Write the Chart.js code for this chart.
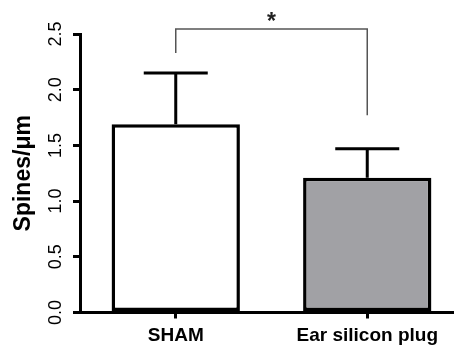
<!DOCTYPE html>
<html>
<head>
<meta charset="utf-8">
<script src="https://cdn.jsdelivr.net/npm/chart.js@4"></script>
<style>
  html, body { margin: 0; padding: 0; background: #fff; overflow: hidden; }
</style>
</head>
<body>
<canvas id="myChart" width="464" height="345"></canvas>
<script>
// data
var categories = ['SHAM', 'Ear silicon plug'];
var means = [1.69, 1.21];
var errors = [0.46, 0.26];
var barColors = ['#ffffff', '#a1a1a5'];

// significance bracket (in y units)
var bracketTop = 2.545;
var bracketEnds = [2.33, 1.77];
var sigLabel = '*';

// error bars + bracket drawn on top of the bars
var errorBars = {
    id: 'errorBars',
    afterDatasetsDraw: function (chart) {
        var c = chart.ctx;
        var x = chart.scales.x;
        var y = chart.scales.y;
        c.save();
        c.strokeStyle = '#000';
        c.lineWidth = 3;
        means.forEach(function (m, i) {
            var px = x.getPixelForValue(i);
            var top = y.getPixelForValue(m + errors[i]);
            c.beginPath();
            c.moveTo(px, y.getPixelForValue(m));
            c.lineTo(px, top);
            c.moveTo(px - 32, top);
            c.lineTo(px + 32, top);
            c.stroke();
        });

        var x0 = x.getPixelForValue(0);
        var x1 = x.getPixelForValue(1);
        var yt = y.getPixelForValue(bracketTop);
        c.strokeStyle = '#555';
        c.lineWidth = 1.5;
        c.beginPath();
        c.moveTo(x0, y.getPixelForValue(bracketEnds[0]));
        c.lineTo(x0, yt);
        c.lineTo(x1, yt);
        c.lineTo(x1, y.getPixelForValue(bracketEnds[1]));
        c.stroke();

        c.fillStyle = '#222';
        c.font = 'bold 23px "Liberation Sans", Arial, sans-serif';
        c.textAlign = 'center';
        c.textBaseline = 'alphabetic';
        c.fillText(sigLabel, (x0 + x1) / 2, yt);
        c.restore();
    }
};

var ctx = document.getElementById('myChart').getContext('2d');
var chart = new Chart(ctx, {
    type: 'bar',
    data: {
        labels: categories,
        datasets: [{
            data: means,
            backgroundColor: barColors,
            borderColor: '#000',
            borderWidth: 3.5,
            borderSkipped: false,
            barPercentage: 0.67,
            categoryPercentage: 1
        }]
    },
    options: {
        responsive: false,
        animation: false,
        layout: { padding: { top: 34, right: 1, left: 0, bottom: 0 } },
        plugins: {
            legend: { display: false },
            tooltip: { enabled: false }
        },
        scales: {
            x: {
                afterFit: function (s) { s.height = 32.5; },
                grid: { drawOnChartArea: false, offset: false, color: '#000', lineWidth: 3, tickLength: 6 },
                border: { color: '#000', width: 3 },
                ticks: {
                    color: '#000',
                    padding: 8,
                    font: { family: '"Liberation Sans", Arial, sans-serif', size: 19, weight: 'bold', lineHeight: 1 }
                }
            },
            y: {
                min: 0,
                max: 2.5,
                afterFit: function (s) { s.width = 80; },
                grid: { drawOnChartArea: false, color: '#000', lineWidth: 3, tickLength: 7 },
                border: { color: '#000', width: 3 },
                ticks: {
                    stepSize: 0.5,
                    minRotation: 90,
                    maxRotation: 90,
                    crossAlign: 'center',
                    padding: 4,
                    color: '#000',
                    font: { family: '"Liberation Sans", Arial, sans-serif', size: 18 },
                    callback: function (v) { return v.toFixed(1); }
                },
                title: {
                    display: true,
                    text: 'Spines/μm',
                    color: '#000',
                    font: { family: '"Liberation Sans", Arial, sans-serif', size: 23, weight: 'bold', lineHeight: 1.2 },
                    padding: { top: 10, bottom: 0 }
                }
            }
        }
    },
    plugins: [errorBars]
});
</script>
</body>
</html>
